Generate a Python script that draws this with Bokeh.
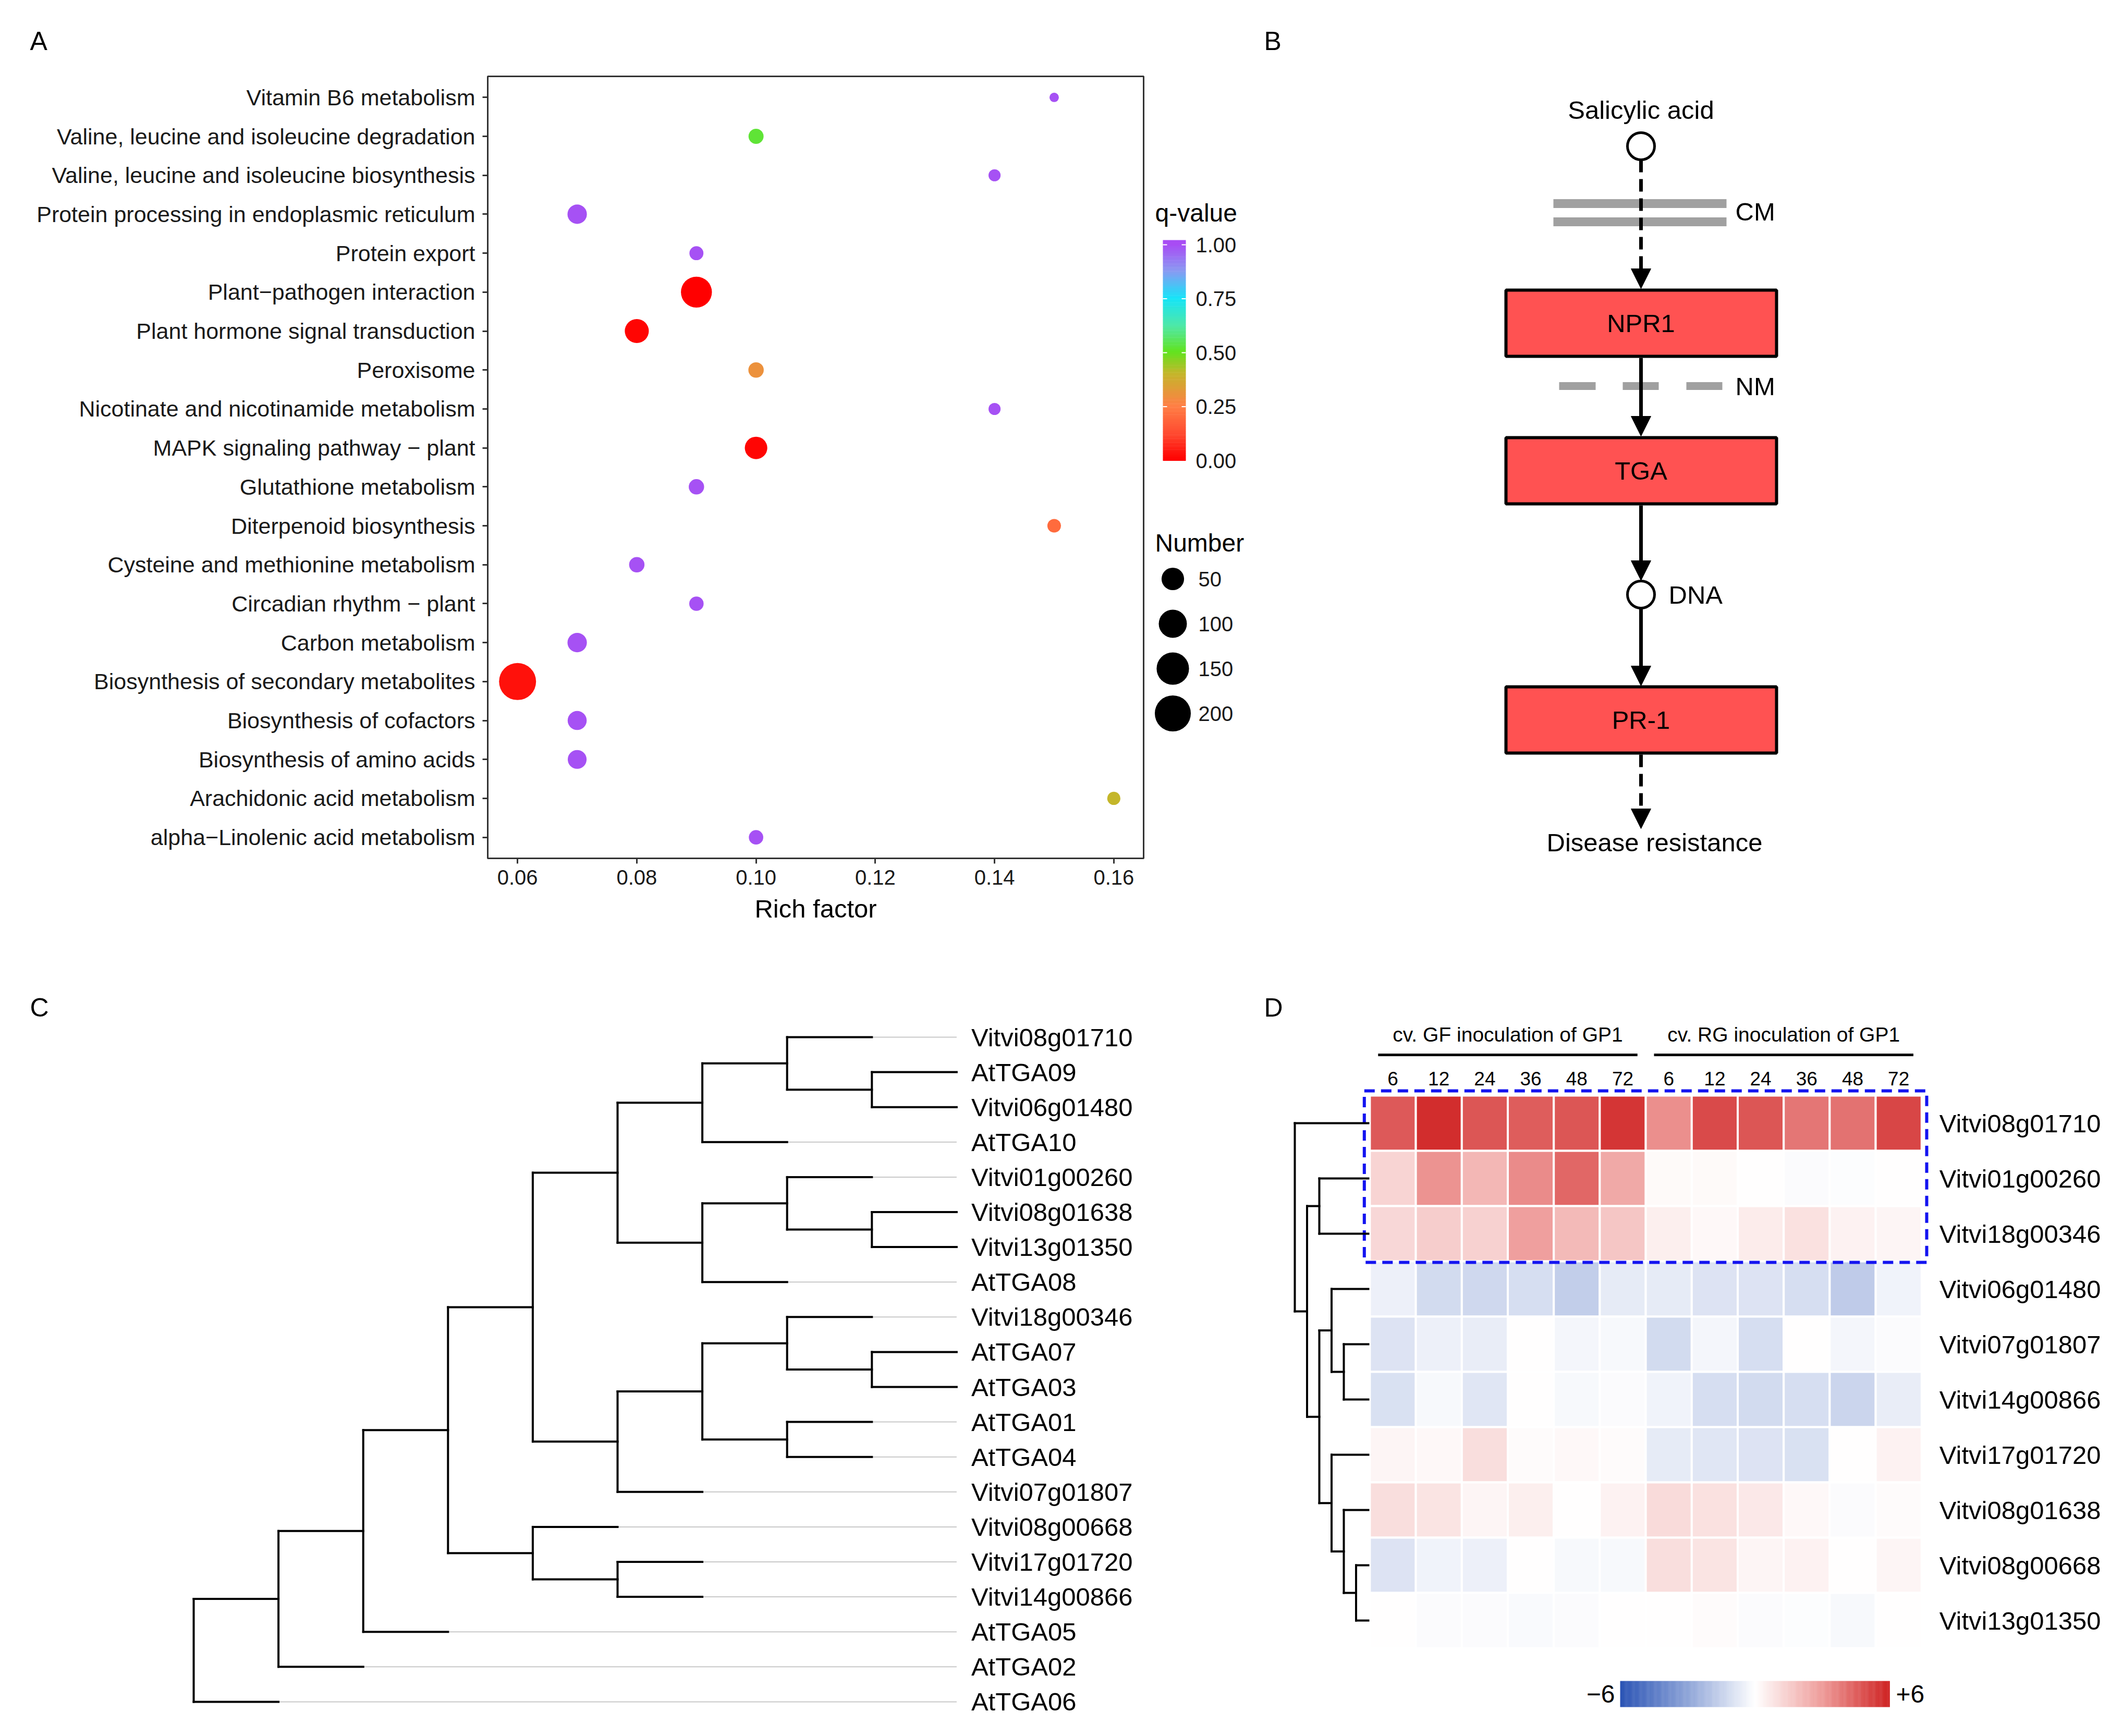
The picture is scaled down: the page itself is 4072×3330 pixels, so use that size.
import numpy as np
from bokeh.plotting import figure
from bokeh.layouts import row, column
from bokeh.models import (Range1d, FactorRange, LinearColorMapper,
                          FixedTicker, PrintfTickFormatter, ColumnDataSource)
from bokeh.transform import transform
from bokeh.core.properties import value
from bokeh.embed import file_html
from bokeh.resources import INLINE

FONT = "Liberation Sans"

# ======================= DATA =======================
# ---- Panel A: KEGG enrichment ----
pathways = [
    "Vitamin B6 metabolism",
    "Valine, leucine and isoleucine degradation",
    "Valine, leucine and isoleucine biosynthesis",
    "Protein processing in endoplasmic reticulum",
    "Protein export",
    "Plant\u2212pathogen interaction",
    "Plant hormone signal transduction",
    "Peroxisome",
    "Nicotinate and nicotinamide metabolism",
    "MAPK signaling pathway \u2212 plant",
    "Glutathione metabolism",
    "Diterpenoid biosynthesis",
    "Cysteine and methionine metabolism",
    "Circadian rhythm \u2212 plant",
    "Carbon metabolism",
    "Biosynthesis of secondary metabolites",
    "Biosynthesis of cofactors",
    "Biosynthesis of amino acids",
    "Arachidonic acid metabolism",
    "alpha\u2212Linolenic acid metabolism",
]
rich_factor = [0.15, 0.10, 0.14, 0.07, 0.09, 0.09, 0.08, 0.10, 0.14, 0.10,
               0.09, 0.15, 0.08, 0.09, 0.07, 0.06, 0.07, 0.07, 0.16, 0.10]
gene_number = [2, 11, 4, 30, 8, 132, 62, 12, 4, 50,
               12, 7, 12, 9, 30, 215, 28, 27, 6, 9]
q_value = [0.99, 0.52, 0.99, 0.99, 0.99, 0.0, 0.01, 0.30, 0.99, 0.01,
           0.99, 0.20, 0.99, 0.99, 0.99, 0.03, 0.99, 0.99, 0.40, 0.99]
rich_ticks = [0.06, 0.08, 0.10, 0.12, 0.14, 0.16]
q_ticks = [0.0, 0.25, 0.5, 0.75, 1.0]
number_breaks = [50, 100, 150, 200]

# ---- Panel B: pathway diagram ----
pathway_boxes = ["NPR1", "TGA", "PR-1"]
signal_label = "Salicylic acid"
outcome_label = "Disease resistance"
membrane_labels = ["CM", "NM"]
dna_label = "DNA"

# ---- Panel C: phylogenetic tree (topology) ----
clade_09 = ("AtTGA09", "Vitvi06g01480")
clade_1710 = ("Vitvi08g01710", clade_09)
clade_10 = (clade_1710, "AtTGA10")
clade_1638 = ("Vitvi08g01638", "Vitvi13g01350")
clade_0260 = ("Vitvi01g00260", clade_1638)
clade_08 = (clade_0260, "AtTGA08")
clade_II = (clade_10, clade_08)
clade_0703 = ("AtTGA07", "AtTGA03")
clade_0346 = ("Vitvi18g00346", clade_0703)
clade_0104 = ("AtTGA01", "AtTGA04")
clade_I = ((clade_0346, clade_0104), "Vitvi07g01807")
clade_III = ("Vitvi08g00668", ("Vitvi17g01720", "Vitvi14g00866"))
tga_tree = (((((clade_II, clade_I), clade_III), "AtTGA05"), "AtTGA02"), "AtTGA06")

# ---- Panel D: expression heatmap ----
genes_D = ["Vitvi08g01710", "Vitvi01g00260", "Vitvi18g00346", "Vitvi06g01480",
           "Vitvi07g01807", "Vitvi14g00866", "Vitvi17g01720", "Vitvi08g01638",
           "Vitvi08g00668", "Vitvi13g01350"]
time_points = ["6", "12", "24", "36", "48", "72"]
groups_D = ["cv. GF inoculation of GP1", "cv. RG inoculation of GP1"]
expr_Vitvi08g01710 = [4.6, 5.7, 4.7, 4.5, 4.7, 5.5, 3.3, 5.0, 4.7, 3.9, 4.0, 5.1]
expr_Vitvi01g00260 = [1.3, 3.2, 2.2, 3.4, 4.3, 2.6, 0.15, 0.15, 0.0, -0.1, -0.05, 0.0]
expr_Vitvi18g00346 = [1.2, 1.5, 1.4, 2.9, 2.1, 1.7, 0.5, 0.2, 0.6, 0.9, 0.4, 0.3]
expr_Vitvi06g01480 = [-0.5, -1.2, -1.3, -1.1, -1.6, -0.7, -0.7, -0.9, -0.9, -1.1, -1.7, -0.4]
expr_Vitvi07g01807 = [-0.9, -0.5, -0.6, 0.0, -0.3, -0.2, -1.2, -0.3, -1.1, 0.0, -0.3, -0.1]
expr_Vitvi14g00866 = [-1.0, -0.2, -0.8, 0.0, -0.2, -0.1, -0.4, -1.1, -1.2, -1.1, -1.4, -0.6]
expr_Vitvi17g01720 = [0.3, 0.2, 1.0, 0.1, 0.2, 0.1, -0.7, -0.8, -0.9, -1.0, 0.0, 0.4]
expr_Vitvi08g01638 = [1.0, 0.8, 0.3, 0.5, 0.0, 0.4, 1.1, 0.9, 0.7, 0.2, -0.1, 0.1]
expr_Vitvi08g00668 = [-0.9, -0.4, -0.5, 0.0, -0.2, -0.2, 1.0, 0.8, 0.3, 0.4, 0.0, 0.3]
expr_Vitvi13g01350 = [0.0, -0.1, -0.1, -0.15, -0.1, 0.0, 0.0, 0.1, -0.1, -0.05, -0.2, 0.0]
# row dendrogram: (height, left, right), leaves = row index
dendro_D = (6, 0, (5, (4, 1, 2), (4, (3, 3, (2, 4, 5)), (3, 6, (2, 7, (1, 8, 9))))))

# ======================= HELPERS =======================
def ramp(stops, n=256):
    pos = np.array([s[0] for s in stops], float)
    cols = np.array([[int(c[i:i + 2], 16) for i in (1, 3, 5)] for _, c in stops], float)
    t = np.linspace(pos[0], pos[-1], n)
    out = []
    for v in t:
        rgb = [int(round(np.interp(v, pos, cols[:, k]))) for k in range(3)]
        out.append("#%02x%02x%02x" % tuple(rgb))
    return out


def canvas_fig(width, height, x_range, y_range):
    """Figure whose frame fills the whole canvas (no axes, no borders)."""
    p = figure(width=width, height=height, x_range=x_range, y_range=y_range,
               output_backend="svg", toolbar_location=None, min_border=0,
               x_axis_location=None, y_axis_location=None, frame_align=False)
    p.grid.visible = False
    p.outline_line_color = None
    p.background_fill_color = "white"
    p.border_fill_color = "white"
    return p


def letter_glyph(p, txt, x, y):
    p.text(x=[x], y=[y], text=[txt], text_font=value(FONT), text_font_size="50px",
           text_color="black", text_baseline="middle", text_align="left")


W_LEFT, W_RIGHT = 2400, 1672
H1, H2 = 1850, 1480

# ======================= PANEL A =======================
q_palette = ramp([(0.00, "#FF0000"), (0.12, "#FF4A30"), (0.25, "#FF7F45"),
                  (0.40, "#C4B62A"), (0.50, "#62E31E"), (0.62, "#4FE8A6"),
                  (0.75, "#16E4F8"), (0.88, "#8B98F2"), (1.00, "#A84CF4")])
q_mapper = LinearColorMapper(palette=q_palette, low=0, high=1)

D_MIN, D_MAX = 18.0, 71.0
n_lo, n_hi = min(gene_number), max(gene_number)


def dot_size(n):
    return D_MIN + (D_MAX - D_MIN) * np.sqrt((np.asarray(n, float) - n_lo) / (n_hi - n_lo))


srcA = ColumnDataSource(dict(path=pathways, rich=rich_factor, q=q_value,
                             size=dot_size(gene_number)))

A_W = 2200
A_TOP = 144
pA_strip = canvas_fig(A_W, A_TOP, Range1d(0, A_W), Range1d(A_TOP, 0))
letter_glyph(pA_strip, "A", 57, 78)

pA = figure(width=A_W, height=H1 - A_TOP,
            x_range=Range1d(0.055, 0.165),
            y_range=FactorRange(factors=pathways[::-1], range_padding=0.04,
                                range_padding_units="absolute"),
            output_backend="svg", toolbar_location=None, frame_align=False,
            min_border_left=935, min_border_right=7, min_border_top=2,
            min_border_bottom=204)
pA.scatter(x="rich", y="path", size="size", source=srcA,
           fill_color=transform("q", q_mapper), line_color=None)
pA.grid.visible = False
pA.outline_line_color = "#333333"
pA.outline_line_width = 3
for ax in (pA.xaxis[0], pA.yaxis[0]):
    ax.axis_line_color = "#333333"
    ax.axis_line_width = 3
    ax.major_tick_line_color = "#333333"
    ax.major_tick_line_width = 3
    ax.major_tick_out = 10
    ax.major_tick_in = 0
    ax.minor_tick_line_color = None
    ax.major_label_text_font = FONT
    ax.major_label_text_color = "#1a1a1a"
pA.xaxis.major_label_text_font_size = "40px"
pA.yaxis.major_label_text_font_size = "43px"
pA.xaxis.ticker = FixedTicker(ticks=rich_ticks)
pA.xaxis.formatter = PrintfTickFormatter(format="%.2f")
pA.xaxis.major_label_standoff = 12
pA.yaxis.major_label_standoff = 14
pA.xaxis.axis_label = "Rich factor"
pA.xaxis.axis_label_text_font = FONT
pA.xaxis.axis_label_text_font_size = "49px"
pA.xaxis.axis_label_text_font_style = "normal"
pA.xaxis.axis_label_text_color = "black"
pA.xaxis.axis_label_standoff = 16

# ---- Panel A legends (own figure, pixel coordinates) ----
pAleg = canvas_fig(W_LEFT - A_W, H1, Range1d(A_W, W_LEFT), Range1d(H1, 0))
QY0, QPX = 883.0, 414.0          # colour-bar position of q=0 and pixels per unit q
BAR_L, BAR_R = 2230, 2274
levels = np.linspace(0, 1.022, 121)
pAleg.quad(left="l", right="r", bottom="b", top="t",
           fill_color=transform("q", q_mapper), line_color=None,
           source=ColumnDataSource(dict(
               l=[BAR_L] * 120, r=[BAR_R] * 120,
               b=QY0 - levels[:-1] * QPX + 0.5, t=QY0 - levels[1:] * QPX,
               q=np.minimum(levels[:-1], 1.0))))
tick_y = [QY0 - q * QPX for q in q_ticks[1:]]
pAleg.segment(x0=[BAR_L] * 4 + [BAR_R - 8] * 4, x1=[BAR_L + 8] * 4 + [BAR_R] * 4,
              y0=tick_y * 2, y1=tick_y * 2, line_color="white", line_width=2)
pAleg.text(x=[2293] * 5, y=[QY0 - q * QPX for q in q_ticks],
           text=["%.2f" % q for q in q_ticks], text_font=value(FONT),
           text_font_size="40px", text_baseline="middle", text_align="left",
           text_color="#1a1a1a")
pAleg.text(x=[2215, 2215], y=[408, 1041], text=["q-value", "Number"],
           text_font=value(FONT), text_font_size="48px", text_baseline="middle",
           text_align="left", text_color="black")
key_y = [1110 + 86 * i for i in range(len(number_breaks))]
pAleg.scatter(x=[2249] * 4, y=key_y, size=dot_size(number_breaks),
              fill_color="black", line_color=None)
pAleg.text(x=[2298] * 4, y=key_y, text=[str(b) for b in number_breaks],
           text_font=value(FONT), text_font_size="40px", text_baseline="middle",
           text_align="left", text_color="#1a1a1a")

# ======================= PANEL B =======================
pB = canvas_fig(W_RIGHT, H1, Range1d(W_LEFT, W_LEFT + W_RIGHT), Range1d(H1, 0))
CX = 3147
BOX_L, BOX_R, BOX_H = 2888, 3407, 127
box_top = [556, 839, 1317]
# membranes (drawn first, beneath arrows)
pB.segment(x0=[2979, 2979], x1=[3311, 3311], y0=[390, 425], y1=[390, 425],
           line_color="#A0A0A0", line_width=17, line_cap="butt")
pB.segment(x0=[2990, 3112, 3234], x1=[3060, 3181, 3303], y0=[740] * 3, y1=[740] * 3,
           line_color="#A0A0A0", line_width=15, line_cap="butt")
# connectors
pB.segment(x0=[CX, CX], x1=[CX, CX], y0=[306, 1447], y1=[518, 1555],
           line_color="black", line_width=7, line_dash="24 13")
pB.segment(x0=[CX] * 3, x1=[CX] * 3, y0=[686, 969, 1166], y1=[800, 1080, 1282],
           line_color="black", line_width=7)
tips = [553, 836, 1113, 1315, 1589]
HEAD_H, HEAD_W = 38, 19
pB.patches(xs=[[CX - HEAD_W, CX + HEAD_W, CX] for _ in tips],
           ys=[[t - HEAD_H, t - HEAD_H, t] for t in tips],
           fill_color="black", line_color="black", line_width=1)
# boxes
pB.quad(left=[BOX_L] * 3, right=[BOX_R] * 3, top=box_top,
        bottom=[t + BOX_H for t in box_top],
        fill_color="#FF5252", line_color="black", line_width=6)
pB.text(x=[CX] * 3, y=[t + BOX_H / 2 for t in box_top], text=pathway_boxes,
        text_font=value(FONT), text_font_size="49px", text_align="center",
        text_baseline="middle", text_color="black")
# circles (salicylic acid, DNA)
pB.scatter(x=[CX, CX], y=[280, 1140], size=52, marker="circle",
           fill_color="white", line_color="black", line_width=5)
pB.text(x=[CX, 3173], y=[210, 1615], text=[signal_label, outcome_label],
        text_font=value(FONT), text_font_size="49px", text_align="center",
        text_baseline="middle", text_color="black")
pB.text(x=[3328, 3328, 3200], y=[405, 740, 1140],
        text=membrane_labels + [dna_label],
        text_font=value(FONT), text_font_size="49px", text_align="left",
        text_baseline="middle", text_color="black")
letter_glyph(pB, "B", 2424, 78)

# ======================= PANEL C =======================
leaf_order = []


def collect(n):
    if isinstance(n, str):
        leaf_order.append(n)
    else:
        for c in n:
            collect(c)


collect(tga_tree)
leaf_idx = {name: i for i, name in enumerate(leaf_order)}


def max_depth(n, d=0):
    if isinstance(n, str):
        return d
    return max(max_depth(c, d + 1) for c in n)


TIP = max_depth(tga_tree)
blk = dict(x0=[], x1=[], y0=[], y1=[])
gry = dict(x0=[], x1=[], y0=[], y1=[])


def add(seg, a, b, c, d):
    seg["x0"].append(a); seg["x1"].append(b); seg["y0"].append(c); seg["y1"].append(d)


def walk(n, d):
    if isinstance(n, str):
        return leaf_idx[n]
    ys = []
    for c in n:
        cy = walk(c, d + 1)
        ys.append(cy)
        add(blk, d, d + 1, cy, cy)
        if isinstance(c, str) and d + 1 < TIP:
            add(gry, d + 1, TIP, cy, cy)
    add(blk, d, d, min(ys), max(ys))
    return (min(ys) + max(ys)) / 2.0


walk(tga_tree, 0)

C_X0, C_DX = 371.0, 162.6      # root x and pixels per node level
C_Y0, C_DY = 1989.0, 67.1      # first leaf y and leaf spacing
pC = canvas_fig(W_LEFT, H2,
                Range1d((0 - C_X0) / C_DX, (W_LEFT - C_X0) / C_DX),
                Range1d((H1 + H2 - C_Y0) / C_DY, (H1 - C_Y0) / C_DY))
pC.segment(source=ColumnDataSource(gry), x0="x0", x1="x1", y0="y0", y1="y1",
           line_color="#C8C8C8", line_width=2)
pC.segment(source=ColumnDataSource(blk), x0="x0", x1="x1", y0="y0", y1="y1",
           line_color="black", line_width=4, line_cap="square")
pC.text(x=[TIP] * len(leaf_order), y=list(range(len(leaf_order))), text=leaf_order,
        x_offset=28, text_font=value(FONT), text_font_size="49px",
        text_baseline="middle", text_align="left", text_color="black")
letter_glyph(pC, "C", (57 - C_X0) / C_DX, (1932 - C_Y0) / C_DY)

# ======================= PANEL D =======================
expr_rows = [expr_Vitvi08g01710, expr_Vitvi01g00260, expr_Vitvi18g00346,
             expr_Vitvi06g01480, expr_Vitvi07g01807, expr_Vitvi14g00866,
             expr_Vitvi17g01720, expr_Vitvi08g01638, expr_Vitvi08g00668,
             expr_Vitvi13g01350]
hm_palette = ramp([(-6, "#2B54B5"), (-3, "#8FA5D8"), (0, "#FFFFFF"),
                   (3, "#EE9C9A"), (6, "#CF2222")])
hm_mapper = LinearColorMapper(palette=hm_palette, low=-6, high=6)

D_X0, D_CW = 2671.0, 88.2      # centre of first column, cell width
D_Y0, D_RH = 2154.0, 106.0     # centre of first row, row height
pD = canvas_fig(W_RIGHT, H2,
                Range1d((W_LEFT - D_X0) / D_CW, (W_LEFT + W_RIGHT - D_X0) / D_CW),
                Range1d((H1 + H2 - D_Y0) / D_RH, (H1 - D_Y0) / D_RH))
ncol = len(time_points) * len(groups_D)
cx, cy, cv = [], [], []
for i, r in enumerate(expr_rows):
    for j, v in enumerate(r):
        cx.append(j); cy.append(i); cv.append(v)
pD.rect(x="x", y="y", width=1, height=1, source=ColumnDataSource(dict(x=cx, y=cy, v=cv)),
        fill_color=transform("v", hm_mapper), line_color="white", line_width=4)
# highlight box around the top cluster
pD.quad(left=-0.62, right=ncol - 0.39, top=-0.585, bottom=2.52,
        fill_color=None, line_color="#1414F0", line_width=6, line_dash="20 12")
# column labels and group headers
pD.text(x=list(range(ncol)), y=[-0.81] * ncol, text=time_points * 2,
        text_font=value(FONT), text_font_size="37px", text_align="center",
        text_baseline="middle", text_color="black")
gcent = [(len(time_points) - 1) / 2.0 + g * len(time_points) for g in range(len(groups_D))]
pD.text(x=gcent, y=[-1.60] * 2, text=groups_D, text_font=value(FONT),
        text_font_size="39px", text_align="center", text_baseline="middle",
        text_color="black")
pD.segment(x0=[c - 2.82 for c in gcent], x1=[c + 2.82 for c in gcent],
           y0=[-1.236] * 2, y1=[-1.236] * 2, line_color="black", line_width=5)
# row labels
pD.text(x=[ncol - 0.5] * len(genes_D), y=list(range(len(genes_D))), text=genes_D,
        x_offset=34, text_font=value(FONT), text_font_size="49px",
        text_align="left", text_baseline="middle", text_color="black")
# row dendrogram
DLEAF = (2624 - D_X0) / D_CW
DSTEP = 23.5 / D_CW
dd = dict(x0=[], x1=[], y0=[], y1=[])


def dwalk(n):
    if isinstance(n, int):
        return float(n), 0
    h, a, b = n
    ya, ha = dwalk(a)
    yb, hb = dwalk(b)
    xh = DLEAF - h * DSTEP
    add(dd, xh, xh, ya, yb)
    add(dd, xh, DLEAF - ha * DSTEP, ya, ya)
    add(dd, xh, DLEAF - hb * DSTEP, yb, yb)
    return (ya + yb) / 2.0, h


dwalk(dendro_D)
pD.segment(source=ColumnDataSource(dd), x0="x0", x1="x1", y0="y0", y1="y1",
           line_color="black", line_width=4, line_cap="square")
# colour bar
CB_L, CB_W = (3107 - D_X0) / D_CW, (3624 - 3107) / D_CW
CB_T, CB_B = (3224 - D_Y0) / D_RH, (3274 - D_Y0) / D_RH
cb_v = np.linspace(-6, 6, 241)
n_cb = len(cb_v) - 1
pD.quad(left="l", right="r", top="t", bottom="b", line_color=None,
        fill_color=transform("v", hm_mapper),
        source=ColumnDataSource(dict(
            l=CB_L + (cb_v[:-1] + 6) / 12 * CB_W,
            r=CB_L + (cb_v[1:] + 6) / 12 * CB_W + 0.004,
            t=[CB_T] * n_cb, b=[CB_B] * n_cb,
            v=(cb_v[:-1] + cb_v[1:]) / 2)))
pD.text(x=[CB_L, CB_L + CB_W], y=[(CB_T + CB_B) / 2] * 2, text=["\u22126", "+6"],
        x_offset=[-10, 12], text_align=["right", "left"], text_font=value(FONT),
        text_font_size="48px", text_baseline="middle", text_color="black")
letter_glyph(pD, "D", (2424 - D_X0) / D_CW, (1932 - D_Y0) / D_RH)

layout = column(row(column(pA_strip, pA), pAleg, pB), row(pC, pD))
open("out.html", "w").write(file_html(layout, INLINE, title="TGA figure"))
